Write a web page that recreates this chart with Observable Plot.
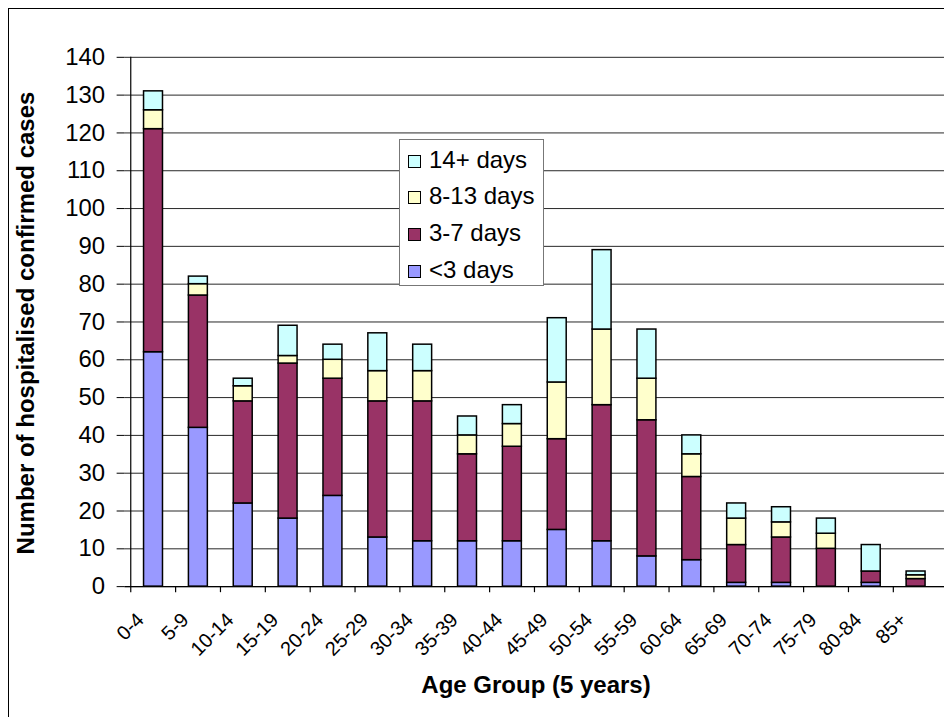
<!DOCTYPE html>
<html>
<head>
<meta charset="utf-8">
<script src="https://cdn.jsdelivr.net/npm/d3@7"></script>
<script src="https://cdn.jsdelivr.net/npm/@observablehq/plot@0.6"></script>
<style>
  html, body { margin: 0; padding: 0; background: #fff; overflow: hidden; }
  #wrap { position: relative; width: 944px; height: 717px; overflow: hidden; font-family: "Liberation Sans", Arial, sans-serif; color: #000; }
  #frame { position: absolute; left: 8px; top: 8px; width: 1000px; height: 1000px; border-left: 1.5px solid #000; border-top: 1.5px solid #000; }
  #chart { position: absolute; left: 0; top: 0; }
  .title { position: absolute; font-weight: bold; font-size: 24px; line-height: 24px; white-space: nowrap; }
  #legend { position: absolute; left: 399px; top: 139px; width: 145px; height: 147px; box-sizing: border-box; border: 1px solid #777; background: #fff; }
  .row { position: absolute; left: 0; height: 24px; line-height: 24px; font-size: 24px; white-space: nowrap; }
  .sw { position: absolute; left: 8px; top: 7px; width: 13px; height: 13px; box-sizing: border-box; border: 1px solid #000; }
  .lt { position: absolute; left: 29px; top: 0; }
</style>
</head>
<body>
<div id="wrap">
  <div id="frame"></div>
  <div id="chart"></div>
  <div class="title" id="ytitle">Number of hospitalised confirmed cases</div>
  <div class="title" id="xtitle">Age Group (5 years)</div>
  <div id="legend"></div>
</div>
<script>
const ageGroups = ["0-4","5-9","10-14","15-19","20-24","25-29","30-34","35-39","40-44","45-49","50-54","55-59","60-64","65-69","70-74","75-79","80-84","85+"];
const seriesNames = ["<3 days","3-7 days","8-13 days","14+ days"];
const lt3Days    = [62,42,22,18,24,13,12,12,12,15,12, 8, 7, 1, 1, 0, 1, 0];
const days3to7   = [59,35,27,41,31,36,37,23,25,24,36,36,22,10,12,10, 3, 2];
const days8to13  = [ 5, 3, 4, 2, 5, 8, 8, 5, 6,15,20,11, 6, 7, 4, 4, 0, 1];
const days14plus = [ 5, 2, 2, 8, 4,10, 7, 5, 5,17,21,13, 5, 4, 4, 4, 7, 1];
const seriesColors = ["#9999FF","#993366","#FFFFCC","#CCFFFF"];
const yTicks = [0,10,20,30,40,50,60,70,80,90,100,110,120,130,140];

const seriesValues = [lt3Days, days3to7, days8to13, days14plus];
const data = [];
seriesNames.forEach((s, i) => ageGroups.forEach((a, j) => data.push({age: a, series: s, value: seriesValues[i][j]})));

const W = 947, H = 717, ML = 125, MT = 57, MB = 129;
const step = (W - ML) / ageGroups.length;

const chart = Plot.plot({
  width: W, height: H,
  marginLeft: ML, marginRight: 0, marginTop: MT, marginBottom: MB,
  style: {fontFamily: '"Liberation Sans", Arial, sans-serif', color: "#000", background: "transparent", overflow: "visible"},
  x: {domain: ageGroups, paddingInner: 0.58, paddingOuter: 0.29, axis: null},
  y: {domain: [0, 140], axis: null},
  color: {domain: seriesNames, range: seriesColors},
  marks: [
    Plot.gridY(yTicks, {stroke: "#000", strokeOpacity: 0.85, strokeWidth: 1}),
    Plot.axisY(yTicks, {tickSize: 8, tickPadding: 12, fontSize: 24, label: null, stroke: "#000", strokeOpacity: 1}),
    Plot.barY(data, {x: "age", y: "value", fill: "series", stroke: "#000", strokeWidth: 1.5, order: seriesNames}),
    Plot.ruleY([0], {stroke: "#000", strokeWidth: 1.2}),
    Plot.ruleX([ageGroups[0]], {y1: 0, y2: 140, dx: -step / 2, stroke: "#000", strokeWidth: 1.2}),
    Plot.ruleX(ageGroups, {y1: 0, y2: -1.6, dx: -step / 2, stroke: "#000", strokeWidth: 1.2}),
    Plot.axisX({tickSize: 0, tickRotate: -45, tickPadding: 30, dx: -13, fontSize: 20, label: null})
  ]
});
document.getElementById("chart").appendChild(chart);

const yt = document.getElementById("ytitle");
yt.style.left = "25.6px"; yt.style.top = ((MT + (H - MB)) / 2) + "px";
yt.style.transform = "translate(-50%,-50%) rotate(-90deg)";
const xt = document.getElementById("xtitle");
xt.style.left = (ML + (W - ML) / 2) + "px"; xt.style.top = "684.5px";
xt.style.transform = "translate(-50%,-50%)";

const legend = document.getElementById("legend");
seriesNames.slice().reverse().forEach((s, k) => {
  const i = seriesNames.indexOf(s);
  const row = document.createElement("div");
  row.className = "row";
  row.style.top = (7.5 + 36.7 * k) + "px";
  row.innerHTML = `<div class="sw" style="background:${seriesColors[i]}"></div><div class="lt"></div>`;
  row.querySelector(".lt").textContent = s;
  legend.appendChild(row);
});
</script>
</body>
</html>
